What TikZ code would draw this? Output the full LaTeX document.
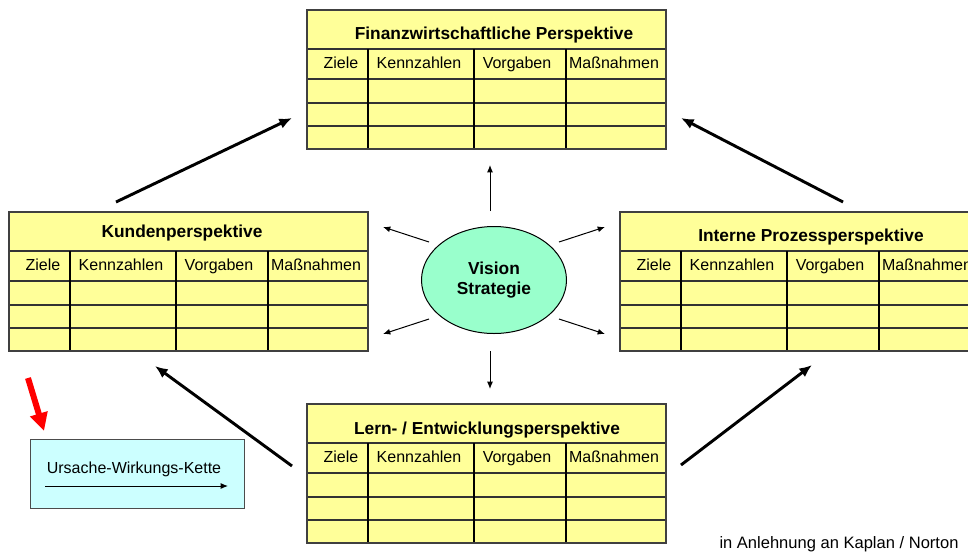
\documentclass[tikz,border=0pt]{standalone}
\usepackage{fontspec}
\setmainfont{Liberation Sans}
\usetikzlibrary{shapes.geometric,arrows.meta}
\definecolor{tabyellow}{HTML}{FFFF99}
\definecolor{visiongreen}{HTML}{99FFCC}
\definecolor{legendcyan}{HTML}{CCFFFF}
\begin{document}
\begin{tikzpicture}[x=0.75pt,y=-0.75pt,
    tablebox/.style={draw=black!75,fill=tabyellow,line width=1pt,anchor=north west,
      inner sep=0pt,minimum width=269.25pt,minimum height=104pt},
    titletext/.style={font=\fontsize{13}{15}\selectfont\bfseries,anchor=base},
    headtext/.style={font=\fontsize{12}{14}\selectfont,anchor=base},
    rowline/.style={draw=black!80,line width=0.8pt},
    colline/.style={draw=black,line width=1.4pt},
    bigarrow/.style={-{Latex[length=9.5pt,width=8pt]},line width=2.2pt},
    smallarrow/.style={-{Latex[length=5.5pt,width=4.5pt]},line width=0.75pt}]
    \useasboundingbox (0,0) rectangle (968,551);
    \clip (0,0) rectangle (968,551);
    % the four perspectives
    \foreach \name/\x/\y/\tx/\ty/\title in {finanz/307/10/494/29/Finanzwirtschaftliche Perspektive,
        kunden/9/212/182/25/Kundenperspektive,
        prozess/620/212/811/29/Interne Prozessperspektive,
        lernen/307/404/487/30/{Lern- / Entwicklungsperspektive}}{
      \begin{scope}[shift={(\x,\y)}]
        \node[tablebox] (\name) at (0,0) {};
        \foreach \r in {39,69,93,116}
          \draw[rowline] (0,\r) -- (359,\r);
        \foreach \c in {61,167,259}
          \draw[colline] (\c,39) -- (\c,139);
        \draw[draw=black!75,line width=1pt] (0,0) rectangle (359,139);
        \node[titletext] (\name-title) at (\tx-\x,\ty) {\title};
        \foreach \hx/\head in {34/Ziele,112/Kennzahlen,210/Vorgaben,307/Maßnahmen}
          \node[headtext] (\name-\hx) at (\hx,58) {\head};
      \end{scope}
    }
    % vision in the middle
    \node[ellipse,draw,fill=visiongreen,line width=0.75pt,minimum width=108.75pt,minimum height=80.25pt,
      inner sep=0pt,align=center,font=\fontsize{13}{15.5}\selectfont\bfseries] (vision) at (494,280) {Vision\\Strategie};
    \coordinate (v-n0) at (490,211);   \coordinate (v-n1) at (490,165);
    \coordinate (v-s0) at (490,351);   \coordinate (v-s1) at (490,389);
    \coordinate (v-nw0) at (429,242);  \coordinate (v-nw1) at (383,227);
    \coordinate (v-ne0) at (559,242);  \coordinate (v-ne1) at (605,227);
    \coordinate (v-sw0) at (429,319);  \coordinate (v-sw1) at (383,334);
    \coordinate (v-se0) at (559,319);  \coordinate (v-se1) at (605,334);
    \foreach \d in {n,s,nw,ne,sw,se}
      \draw[smallarrow] (v-\d0) -- (v-\d1);
    % cause and effect chain
    \coordinate (k-out) at (116,202);  \coordinate (f-in1) at (292,118);
    \coordinate (p-out) at (843,202);  \coordinate (f-in2) at (681,118);
    \coordinate (l-out1) at (292,466); \coordinate (k-in) at (155,366);
    \coordinate (l-out2) at (681,465); \coordinate (p-in) at (812,365);
    \draw[bigarrow] (k-out) -- (f-in1);
    \draw[bigarrow] (p-out) -- (f-in2);
    \draw[bigarrow] (l-out1) -- (k-in);
    \draw[bigarrow] (l-out2) -- (p-in);
    % legend
    \node[draw=black!70,fill=legendcyan,line width=0.75pt,minimum width=160.5pt,minimum height=51.75pt,
      inner sep=0pt] (legend) at (137,473.5) {};
    \node[headtext] (chain) at (134,473) {Ursache-Wirkungs-Kette};
    \coordinate (chain-a) at (45,486);
    \coordinate (chain-b) at (228,486);
    \draw[smallarrow] (chain-a) -- (chain-b);
    \coordinate (red-a) at (28,378);
    \coordinate (red-b) at (44,431);
    \draw[red,line width=4.5pt,-{Triangle[length=13.5pt,width=13pt]}] (red-a) -- (red-b);
    \node[font=\fontsize{12.4}{14}\selectfont,anchor=base] (source) at (839,548) {in Anlehnung an Kaplan / Norton};
\end{tikzpicture}
\end{document}
